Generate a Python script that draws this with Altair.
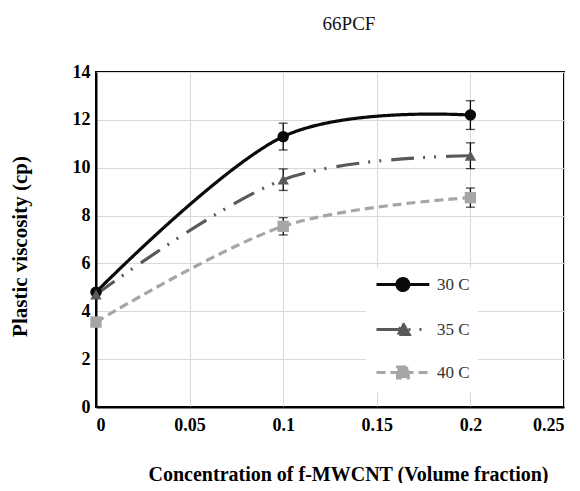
import altair as alt
import pandas as pd

# ---- data ----
conc = [0.0, 0.1, 0.2]
series_names = ["30 C", "35 C", "40 C"]
visc_30 = [4.8, 11.3, 12.2]
visc_35 = [4.7, 9.5, 10.5]
visc_40 = [3.55, 7.55, 8.75]
err_30 = [None, 0.56, 0.6]
err_35 = [None, 0.45, 0.54]
err_40 = [None, 0.36, 0.4]

x_ticks = [0, 0.05, 0.1, 0.15, 0.2, 0.25]
y_ticks = [0, 2, 4, 6, 8, 10, 12, 14]

colors = ["#0a0a0a", "#595959", "#a6a6a6"]
dashes = [[1, 0], [23, 9, 2, 9, 2, 10], [9, 5]]
point_shapes = ["circle", "triangle-up", "square"]
legend_paths = [
    "M-1,0H7.8M4.4,0A1,1,0,1,1,2.4,0A1,1,0,1,1,4.4,0Z",
    "M-1,0H7.8M3.4,-1.05L4.45,0.85L2.35,0.85Z",
    "M-1,0H7.8M2.5,-0.9H4.3V0.9H2.5Z",
]

rows = []
for name, vals, errs, shp in zip(series_names, [visc_30, visc_35, visc_40],
                                 [err_30, err_35, err_40], point_shapes):
    for c, v, e in zip(conc, vals, errs):
        rows.append({
            "conc": c, "visc": v, "series": name, "shp": shp,
            "lo": None if e is None else v - e,
            "hi": None if e is None else v + e,
        })
df = pd.DataFrame(rows)

xs = alt.Scale(domain=[0, 0.25], nice=False)
ys = alt.Scale(domain=[0, 14], nice=False)

x_enc = alt.X("conc:Q", scale=xs, axis=alt.Axis(
    values=x_ticks, format="~g", title="Concentration of f-MWCNT (Volume fraction)",
    titlePadding=30, labelPadding=9, titleX=252))
y_enc = alt.Y("visc:Q", scale=ys, axis=alt.Axis(
    values=y_ticks, title="Plastic viscosity (cp)", titlePadding=42, labelPadding=6,
    titleY=174))

base = alt.Chart(df)

lines = base.mark_line(interpolate="cardinal", strokeWidth=3.2).encode(
    x=x_enc, y=y_enc,
    stroke=alt.Stroke("series:N", scale=alt.Scale(domain=series_names, range=colors), legend=None),
    strokeDash=alt.StrokeDash("series:N", scale=alt.Scale(domain=series_names, range=dashes), legend=None),
)

errs = base.transform_filter("datum.lo != null").mark_errorbar(
    ticks={"size": 9, "thickness": 1.3, "color": "black"},
    rule={"strokeWidth": 1.3, "color": "black"},
    color="black",
).encode(
    x=alt.X("conc:Q", scale=xs),
    y=alt.Y("lo:Q", scale=ys, title="Plastic viscosity (cp)"),
    y2="hi:Q",
)

pts = base.mark_point(filled=True, opacity=1, size=130).encode(
    x="conc:Q", y="visc:Q",
    fill=alt.Fill("series:N", scale=alt.Scale(domain=series_names, range=colors), legend=None),
    shape=alt.Shape("shp:N", scale=None),
)

leg = alt.Legend(title=None)
legend_layer = base.transform_filter("false").mark_point(filled=True, opacity=1).encode(
    x="conc:Q", y="visc:Q",
    fill=alt.Fill("series:N", scale=alt.Scale(domain=series_names, range=colors), legend=leg),
    stroke=alt.Stroke("series:N", scale=alt.Scale(domain=series_names, range=colors), legend=leg),
    strokeDash=alt.StrokeDash("series:N", scale=alt.Scale(domain=series_names, range=dashes), legend=leg),
    shape=alt.Shape("series:N", scale=alt.Scale(domain=series_names, range=legend_paths), legend=leg),
)

chart = alt.layer(lines, errs, pts, legend_layer).resolve_scale(
    fill="independent", stroke="independent", strokeDash="independent", shape="independent",
).resolve_legend(
    fill="independent", stroke="independent", strokeDash="independent", shape="independent",
).properties(
    width=468, height=335,
    autosize=alt.AutoSizeParams(type="none"),
    padding={"left": 88, "top": 64, "right": 8, "bottom": 76},
    title=alt.TitleParams("66PCF", font="Liberation Serif", fontSize=19, fontWeight="normal",
                          color="#111", offset=29, dx=19, anchor="middle"),
).configure_view(
    stroke="black", strokeWidth=2,
).configure_axis(
    grid=True, gridColor="#d9d9d9", gridWidth=1,
    domainColor="black", domainWidth=2, ticks=False,
    labelFont="Liberation Serif", labelFontWeight="bold", labelFontSize=18, labelColor="black",
    titleFont="Liberation Serif", titleFontWeight="bold", titleFontSize=21, titleColor="black",
).configure_axisX(
    titleFontSize=20,
).configure_legend(
    orient="none", legendX=270, legendY=196,
    fillColor="white", padding=8,
    symbolSize=144, symbolStrokeWidth=3,
    labelFont="Liberation Sans Narrow", labelFontSize=17, labelColor="#333",
    labelOffset=46, rowPadding=20,
)

chart.save("out.html", embed_options={"renderer": "svg", "actions": False})
